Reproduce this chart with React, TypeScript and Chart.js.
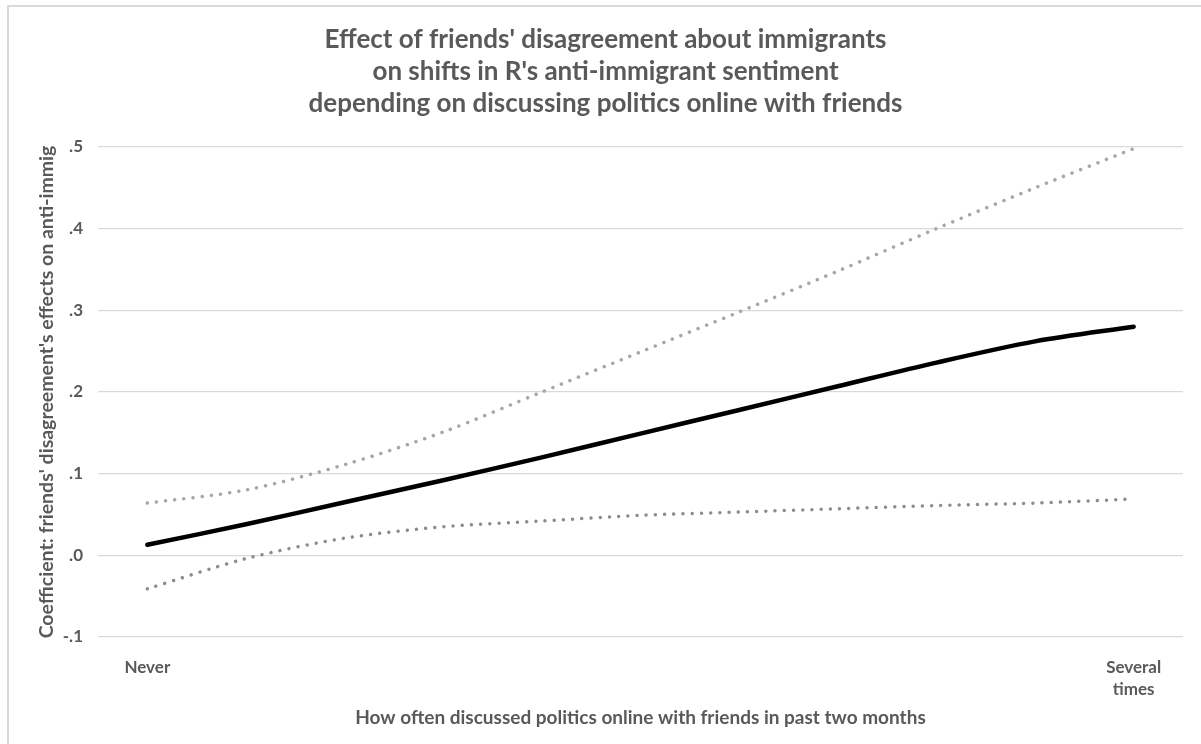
import React, { useEffect, useRef } from "react";
import { Chart, registerables } from "chart.js";

Chart.register(...registerables);

const categories: (string | string[])[] = ["Never", "", "", "", "", "", "", "", "", "", ["Several", "times"]];
const meanEffect = [0.013, 0.038, 0.065, 0.092, 0.12, 0.149, 0.178, 0.207, 0.236, 0.262, 0.28];
const upperBound = [0.064, 0.08, 0.111, 0.151, 0.2, 0.249, 0.298, 0.348, 0.4, 0.45, 0.498];
const lowerBound = [-0.041, -0.004, 0.021, 0.035, 0.042, 0.049, 0.053, 0.057, 0.061, 0.064, 0.069];
const titleLines = [
  "Effect of friends' disagreement about immigrants",
  "on shifts in R's anti-immigrant sentiment",
  "depending on discussing politics online with friends",
];
const yTitle = "Coefficient: friends' disagreement's effects on anti-immig";
const xTitle = "How often discussed politics online with friends in past two months";

const FONT = "Lato, 'Open Sans', sans-serif";
const TEXT = "#595959";

export default function App() {
  const ref = useRef<HTMLCanvasElement | null>(null);
  useEffect(() => {
    if (!ref.current) return;
    const chart = new Chart(ref.current, {
      type: "line",
      data: {
        labels: categories,
        datasets: [
          {
            label: "Effect",
            data: meanEffect,
            borderColor: "#000000",
            borderWidth: 4.5,
            borderCapStyle: "round",
            pointRadius: 0,
            tension: 0.3,
            fill: false,
          },
          {
            label: "Upper",
            data: upperBound,
            borderColor: "#A6A6A6",
            borderWidth: 3.5,
            borderDash: [0.01, 9.2],
            borderCapStyle: "round",
            pointRadius: 0,
            tension: 0.3,
            fill: false,
          },
          {
            label: "Lower",
            data: lowerBound,
            borderColor: "#8C8C8C",
            borderWidth: 3.5,
            borderDash: [0.01, 9.2],
            borderCapStyle: "round",
            pointRadius: 0,
            tension: 0.3,
            fill: false,
          },
        ],
      },
      options: {
        animation: false,
        responsive: false,
        layout: { padding: { left: 28, right: 18, top: 0, bottom: 0 } },
        plugins: {
          legend: { display: false },
          tooltip: { enabled: false },
          title: {
            display: true,
            text: titleLines,
            color: TEXT,
            font: { family: FONT, size: 26, weight: "bold", lineHeight: 32 / 26 },
            padding: { top: 24, bottom: 27 },
          },
        },
        scales: {
          x: {
            type: "category",
            offset: true,
            grid: { display: false },
            border: { display: false },
            ticks: {
              color: TEXT,
              font: { family: FONT, size: 17, weight: "bold", lineHeight: 22 / 17 },
              padding: 12,
              maxRotation: 0,
              autoSkip: false,
            },
            title: {
              display: true,
              text: xTitle,
              color: TEXT,
              font: { family: FONT, size: 19, weight: "bold", lineHeight: 1.2 },
              padding: { top: 0, bottom: 14.6 },
            },
            afterFit: (s: any) => {
              s.height = 107;
            },
          },
          y: {
            min: -0.1,
            max: 0.5,
            grid: { color: "#D9D9D9", lineWidth: 1.2, drawTicks: false },
            border: { display: false },
            ticks: {
              stepSize: 0.1,
              color: TEXT,
              font: { family: FONT, size: 17, weight: "bold" },
              padding: 15,
              callback: (v: any) => {
                const n = Math.round(Number(v) * 10) / 10;
                return n.toFixed(1).replace(/^(-?)0\./, "$1.");
              },
            },
            title: {
              display: true,
              text: yTitle,
              color: TEXT,
              font: { family: FONT, size: 19.5, weight: "bold", lineHeight: 1.2 },
              padding: { top: 7.3, bottom: 0 },
            },
            afterFit: (s: any) => {
              s.width = 70;
            },
          },
        },
      },
    });
    return () => chart.destroy();
  }, []);

  return (
    <div
      style={{
        position: "fixed",
        left: 0,
        top: 0,
        width: 1201,
        height: 744,
        overflow: "hidden",
        background: "#ffffff",
      }}
    >
      <div
        style={{
          position: "absolute",
          left: 7,
          top: 5,
          width: 1400,
          height: 1000,
          border: "2px solid #D9D9D9",
          boxSizing: "border-box",
        }}
      />
      <canvas
        ref={ref}
        width={1201}
        height={744}
        style={{ position: "absolute", left: 0, top: 0, width: 1201, height: 744 }}
      />
    </div>
  );
}
